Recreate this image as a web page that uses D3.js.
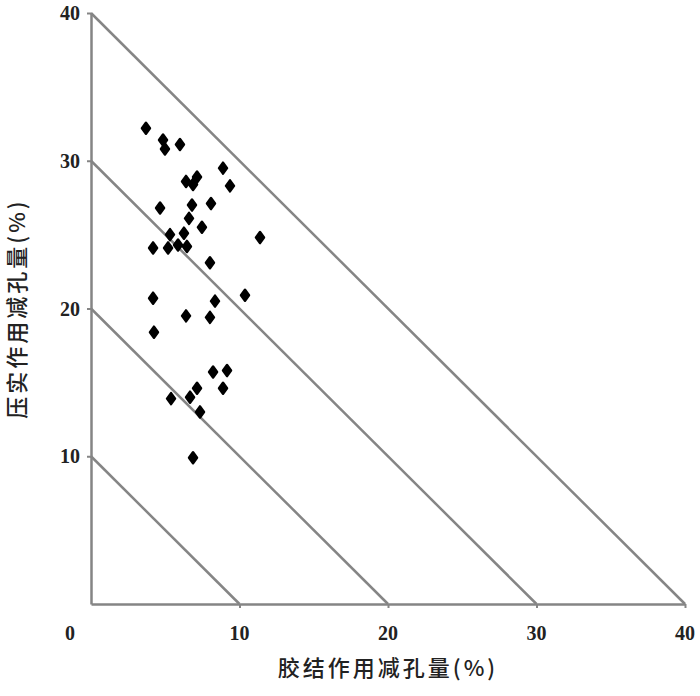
<!DOCTYPE html>
<html>
<head>
<meta charset="utf-8">
<script src="https://cdn.jsdelivr.net/npm/d3@7"></script>
<style>
  body { margin: 0; background: #fff; }
  .tick-label { font-family: 'Liberation Serif', serif; font-size: 20px; font-weight: bold; fill: #222; }
  .axis-title { font-family: 'Noto Sans CJK SC', sans-serif; font-size: 22px; font-weight: 500; fill: #222; letter-spacing: 3px; }
</style>
</head>
<body>
<div id="chart"></div>
<script>
// cementation porosity loss (x, %) vs compaction porosity loss (y, %)
var cementLoss = [3.7, 4.85, 4.98, 5.99, 8.89, 9.36, 6.4, 6.87, 7.14, 4.65, 6.8, 8.08,
  6.6, 7.47, 11.38, 4.18, 5.32, 6.26, 5.19, 5.86, 6.46, 8.01, 4.18, 8.35, 10.37,
  6.4, 8.01, 4.24, 8.22, 9.16, 8.89, 7.14, 6.67, 5.39, 7.34, 6.87];
var compactLoss = [32.2, 31.4, 30.8, 31.1, 29.5, 28.3, 28.6, 28.4, 28.9, 26.8, 27.0, 27.1,
  26.1, 25.5, 24.8, 24.1, 25.0, 25.1, 24.1, 24.3, 24.2, 23.1, 20.7, 20.5, 20.9,
  19.5, 19.4, 18.4, 15.7, 15.8, 14.6, 14.6, 14.0, 13.9, 13.0, 9.9];
var totals = [10, 20, 30, 40];      // iso lines x + y = total
var xTicks = [10, 20, 30, 40];
var yTicks = [10, 20, 30, 40];
var xTitle = '胶结作用减孔量(%)';
var yTitle = '压实作用减孔量(%)';

var width = 700, height = 696;
var margin = { top: 13, right: 15, bottom: 92, left: 91 };

var x = d3.scaleLinear().domain([0, 40]).range([margin.left, width - margin.right]);
var y = d3.scaleLinear().domain([0, 40]).range([height - margin.bottom, margin.top]);

var svg = d3.select('#chart')
  .append('svg')
    .attr('width', width)
    .attr('height', height);

var lineColor = '#858585';

// diagonal lines
var line = d3.line()
  .x(function(d) { return x(d[0]); })
  .y(function(d) { return y(d[1]); });

svg.selectAll('.iso')
  .data(totals)
  .enter()
  .append('path')
    .attr('class', 'iso')
    .attr('d', function(t) { return line([[0, t], [t, 0]]); })
    .attr('fill', 'none')
    .attr('stroke', lineColor)
    .attr('stroke-width', 2.5);

// x axis
var xAxis = svg.append('g')
  .attr('transform', 'translate(0,' + y(0) + ')')
  .call(d3.axisBottom(x).tickValues(xTicks).tickSize(4).tickSizeOuter(0).tickFormat(''));
xAxis.select('.domain').attr('stroke', lineColor).attr('stroke-width', 2.5);
xAxis.selectAll('.tick line').attr('stroke', lineColor).attr('stroke-width', 2);

// y axis
var yAxis = svg.append('g')
  .attr('transform', 'translate(' + x(0) + ',0)')
  .call(d3.axisLeft(y).tickValues(yTicks).tickSize(4).tickSizeOuter(0).tickFormat(''));
yAxis.select('.domain').attr('stroke', lineColor).attr('stroke-width', 2.5);
yAxis.selectAll('.tick line').attr('stroke', lineColor).attr('stroke-width', 2);

// tick labels
svg.selectAll('.xlab')
  .data([0].concat(xTicks))
  .enter()
  .append('text')
    .attr('class', 'tick-label')
    .attr('text-anchor', 'middle')
    .attr('x', function(d) { return d === 0 ? x(0) - 21 : x(d); })
    .attr('y', y(0) + 36)
    .text(function(d) { return d; });

svg.selectAll('.ylab')
  .data(yTicks)
  .enter()
  .append('text')
    .attr('class', 'tick-label')
    .attr('text-anchor', 'end')
    .attr('x', x(0) - 11)
    .attr('y', function(d) { return y(d) + 7; })
    .text(function(d) { return d; });

// points: small rounded diamonds
var diamond = 'M0,-5.5L4,0L0,5.5L-4,0Z';
svg.selectAll('.pt')
  .data(d3.range(cementLoss.length))
  .enter()
  .append('path')
    .attr('class', 'pt')
    .attr('d', diamond)
    .attr('transform', function(i) {
      return 'translate(' + x(cementLoss[i]) + ',' + y(compactLoss[i]) + ')';
    })
    .attr('fill', '#000')
    .attr('stroke', '#000')
    .attr('stroke-width', 2.5)
    .attr('stroke-linejoin', 'round');

// axis titles
svg.append('text')
  .attr('class', 'axis-title')
  .attr('text-anchor', 'middle')
  .attr('x', x(20))
  .attr('y', y(0) + 72)
  .text(xTitle);

svg.append('text')
  .attr('class', 'axis-title')
  .attr('text-anchor', 'middle')
  .attr('transform', 'translate(25,' + y(20) + ') rotate(-90)')
  .text(yTitle);
</script>
</body>
</html>
